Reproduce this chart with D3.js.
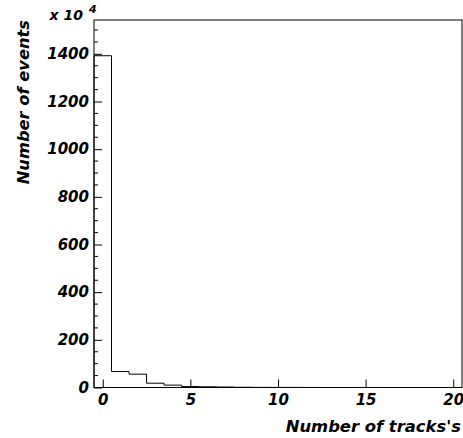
<!DOCTYPE html>
<html>
<head>
<meta charset="utf-8">
<script src="https://cdn.jsdelivr.net/npm/d3@7"></script>
<style>
  body { margin: 0; background: #fff; }
  svg { display: block; }
  text { font-family: "DejaVu Sans", sans-serif; font-weight: bold; font-style: italic; fill: #000; }
</style>
</head>
<body>
<svg width="463" height="438"></svg>
<script>
// bin centers (number of tracks) and counts, in units of 10^4
const bins = [0, 1, 2, 3, 4, 5, 6, 7, 8, 9, 10, 11, 12, 13, 14, 15, 16, 17, 18, 19, 20];
const counts = [1392, 67, 56, 18, 10, 4, 3, 2, 1, 0.5, 0.3, 0.2, 0.1, 0, 0, 0, 0, 0, 0, 0, 0];
const xTicks = [0, 5, 10, 15, 20];
const yTicks = [0, 200, 400, 600, 800, 1000, 1200, 1400];
const yMinor = d3.range(0, 1501, 50);

const svg = d3.select("svg");
const mLeft = 94, mRight = 462, mTop = 20, mBottom = 387.5;

const x = d3.scaleLinear().domain([-0.5, 20.5]).range([mLeft, mRight]);
const y = d3.scaleLinear().domain([0, 1542]).range([mBottom, mTop]);

// minor y ticks
svg.append("g")
  .selectAll("line")
  .data(yMinor.filter(d => !yTicks.includes(d)))
  .enter().append("line")
  .attr("x1", mLeft).attr("x2", mLeft + 4)
  .attr("y1", d => y(d)).attr("y2", d => y(d))
  .attr("stroke", "#000");

const yAxis = svg.append("g")
  .attr("transform", `translate(${mLeft},0)`)
  .call(d3.axisLeft(y).tickValues(yTicks).tickFormat(d3.format("d")).tickSize(-8).tickPadding(5));
yAxis.select(".domain").remove();
yAxis.selectAll("text").style("font-size", "15px");

const xAxis = svg.append("g")
  .attr("transform", `translate(0,${mBottom})`)
  .call(d3.axisBottom(x).tickValues(xTicks).tickFormat(d3.format("d")).tickSize(-8).tickPadding(7));
xAxis.select(".domain").remove();
xAxis.selectAll("text").style("font-size", "15px");

// histogram outline
const pts = [[x(-0.5), y(0)]];
bins.forEach((b, i) => {
  pts.push([x(b - 0.5), y(counts[i])]);
  pts.push([x(b + 0.5), y(counts[i])]);
});
pts.push([x(20.5), y(0)]);
svg.append("path")
  .attr("d", d3.line()(pts))
  .attr("fill", "none")
  .attr("stroke", "#000")
  .attr("stroke-width", 1);

// frame
svg.append("rect")
  .attr("x", mLeft).attr("y", mTop)
  .attr("width", mRight - mLeft).attr("height", mBottom - mTop)
  .attr("fill", "none")
  .attr("stroke", "#000");

// exponent label
svg.append("text")
  .attr("x", 83).attr("y", 20)
  .attr("text-anchor", "end")
  .style("font-size", "14px")
  .text("x 10");
svg.append("text")
  .attr("x", 89).attr("y", 13)
  .style("font-size", "11px")
  .text("4");

// axis titles
svg.append("text")
  .attr("x", 461).attr("y", 432)
  .attr("text-anchor", "end")
  .style("font-size", "16.4px")
  .text("Number of tracks's");

svg.append("text")
  .attr("transform", "translate(29,20) rotate(-90)")
  .attr("text-anchor", "end")
  .style("font-size", "16.3px")
  .text("Number of events");
</script>
</body>
</html>
